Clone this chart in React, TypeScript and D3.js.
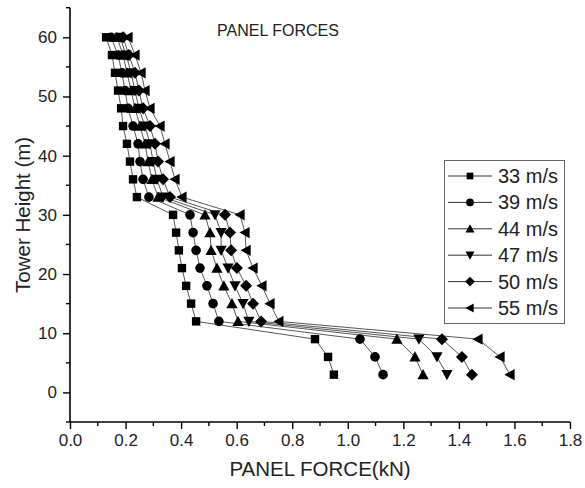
import React, { useEffect, useRef } from "react";
import * as d3 from "d3";

// tower heights (m), bottom to top
const heights = [3, 6, 9, 12, 15, 18, 21, 24, 27, 30, 33, 36, 39, 42, 45, 48, 51, 54, 57, 60];

// panel force (kN) for each wind speed, same order as heights
const s33 = [0.95, 0.929, 0.882, 0.454, 0.436, 0.418, 0.403, 0.392, 0.382, 0.371, 0.241, 0.227, 0.216, 0.205, 0.191, 0.184, 0.173, 0.162, 0.151, 0.13];
const s39 = [1.127, 1.098, 1.044, 0.536, 0.515, 0.493, 0.468, 0.454, 0.443, 0.432, 0.284, 0.263, 0.252, 0.245, 0.227, 0.209, 0.198, 0.187, 0.173, 0.148];
const s44 = [1.271, 1.242, 1.177, 0.605, 0.583, 0.554, 0.529, 0.508, 0.504, 0.486, 0.317, 0.295, 0.281, 0.27, 0.252, 0.234, 0.22, 0.205, 0.191, 0.169];
const s47 = [1.357, 1.321, 1.256, 0.644, 0.623, 0.594, 0.569, 0.544, 0.544, 0.522, 0.335, 0.313, 0.299, 0.288, 0.27, 0.248, 0.234, 0.22, 0.202, 0.18];
const s50 = [1.447, 1.411, 1.339, 0.688, 0.659, 0.634, 0.601, 0.58, 0.576, 0.558, 0.36, 0.335, 0.317, 0.306, 0.288, 0.263, 0.248, 0.234, 0.212, 0.191];
const s55 = [1.584, 1.548, 1.469, 0.752, 0.72, 0.691, 0.659, 0.634, 0.63, 0.612, 0.403, 0.378, 0.36, 0.342, 0.324, 0.288, 0.27, 0.256, 0.234, 0.209];

const seriesNames = ["33 m/s", "39 m/s", "44 m/s", "47 m/s", "50 m/s", "55 m/s"];
const seriesValues = [s33, s39, s44, s47, s50, s55];
const markerKinds = ["square", "circle", "up", "down", "diamond", "left"];

const xTicks = [0, 0.2, 0.4, 0.6, 0.8, 1.0, 1.2, 1.4, 1.6, 1.8];
const yTicks = [0, 10, 20, 30, 40, 50, 60];

const FONT = "'Liberation Sans', Arial, sans-serif";

// marker path centred on 0,0
const markerPath = (kind: string) => {
  switch (kind) {
    case "square":
      return "M-4.2,-4.2H4.2V4.2H-4.2Z";
    case "circle":
      return "M4.8,0A4.8,4.8 0 1 1 -4.8,0A4.8,4.8 0 1 1 4.8,0Z";
    case "up":
      return "M0,-5.6L5.6,4.6L-5.6,4.6Z";
    case "down":
      return "M0,5.6L5.6,-4.6L-5.6,-4.6Z";
    case "diamond":
      return "M0,-6L6,0L0,6L-6,0Z";
    default:
      return "M-5.6,0L4.6,-5.6L4.6,5.6Z";
  }
};

const Chart = () => {
  const ref = useRef<SVGSVGElement | null>(null);

  useEffect(() => {
    const svg = d3.select(ref.current);
    svg.selectAll("*").remove();

    const x = d3.scaleLinear().domain([0, 1.8]).range([70, 570]);
    const y = d3.scaleLinear().domain([-5, 65]).range([422, 7.7]);

    // y axis
    const yAxis = svg.append("g").attr("transform", `translate(${x(0)},0)`);
    yAxis
      .call(
        d3.axisLeft(y).tickValues(yTicks).tickSize(7).tickPadding(6).tickFormat(d3.format("d"))
      )
      .call((g) => g.select(".domain").attr("stroke-width", 1.6).attr("d", `M0,${y(65)}V${y(-5)}`));
    yAxis
      .selectAll(".minor")
      .data(d3.range(-5, 66, 10))
      .enter()
      .append("line")
      .attr("x1", -4)
      .attr("x2", 0)
      .attr("y1", (d) => y(d))
      .attr("y2", (d) => y(d))
      .attr("stroke", "#000")
      .attr("stroke-width", 1.4);

    // x axis
    const xAxis = svg.append("g").attr("transform", `translate(0,${y(-5)})`);
    xAxis
      .call(
        d3.axisBottom(x).tickValues(xTicks).tickSize(7).tickPadding(5).tickFormat(d3.format(".1f"))
      )
      .call((g) => g.select(".domain").attr("stroke-width", 1.6).attr("d", `M${x(0)},0H${x(1.8)}`));
    xAxis
      .selectAll(".minor")
      .data(d3.range(0.1, 1.8, 0.2))
      .enter()
      .append("line")
      .attr("x1", (d) => x(d))
      .attr("x2", (d) => x(d))
      .attr("y1", 0)
      .attr("y2", 4)
      .attr("stroke", "#000")
      .attr("stroke-width", 1.4);

    svg.selectAll(".tick line").attr("stroke-width", 1.4);
    svg
      .selectAll(".tick text")
      .style("font-family", FONT)
      .style("font-size", "17px")
      .attr("fill", "#222");

    // series lines
    const line = d3
      .line<number>()
      .x((d) => x(d))
      .y((_, i) => y(heights[i]));

    seriesValues.forEach((vals) => {
      svg
        .append("path")
        .datum(vals)
        .attr("d", line)
        .attr("fill", "none")
        .attr("stroke", "#444")
        .attr("stroke-width", 0.9);
    });

    // markers
    seriesValues.forEach((vals, k) => {
      svg
        .append("g")
        .selectAll("path")
        .data(vals)
        .enter()
        .append("path")
        .attr("d", markerPath(markerKinds[k]))
        .attr("transform", (d, i) => `translate(${x(d)},${y(heights[i])})`)
        .attr("fill", "#000");
    });

    // legend
    const lg = svg.append("g");
    lg.append("rect")
      .attr("x", 444.5)
      .attr("y", 160.5)
      .attr("width", 120)
      .attr("height", 163)
      .attr("fill", "#fff")
      .attr("stroke", "#666")
      .attr("stroke-width", 1);
    seriesNames.forEach((name, k) => {
      const cy = 176 + k * 26.4;
      lg.append("line")
        .attr("x1", 448)
        .attr("x2", 492)
        .attr("y1", cy)
        .attr("y2", cy)
        .attr("stroke", "#333")
        .attr("stroke-width", 1);
      lg.append("path")
        .attr("d", markerPath(markerKinds[k]))
        .attr("transform", `translate(470,${cy}) scale(0.8)`)
        .attr("fill", "#000");
      lg.append("text")
        .attr("x", 498)
        .attr("y", cy + 7)
        .style("font-family", FONT)
        .style("font-size", "20px")
        .attr("fill", "#222")
        .text(name);
    });

    // titles
    svg
      .append("text")
      .attr("x", 278)
      .attr("y", 36)
      .attr("text-anchor", "middle")
      .style("font-family", FONT)
      .style("font-size", "16px")
      .attr("fill", "#222")
      .text("PANEL FORCES");

    svg
      .append("text")
      .attr("x", 320)
      .attr("y", 476)
      .attr("text-anchor", "middle")
      .style("font-family", FONT)
      .style("font-size", "20.5px")
      .attr("fill", "#222")
      .text("PANEL FORCE(kN)");

    svg
      .append("text")
      .attr("transform", `translate(30,${(y(65) + y(-5)) / 2}) rotate(-90)`)
      .attr("text-anchor", "middle")
      .style("font-family", FONT)
      .style("font-size", "20.5px")
      .attr("fill", "#222")
      .text("Tower Height (m)");
  }, []);

  return (
    <svg
      ref={ref}
      width={585}
      height={488}
      style={{ position: "absolute", left: 0, top: 0, background: "#fff" }}
    />
  );
};

export default function App() {
  return <Chart />;
}
